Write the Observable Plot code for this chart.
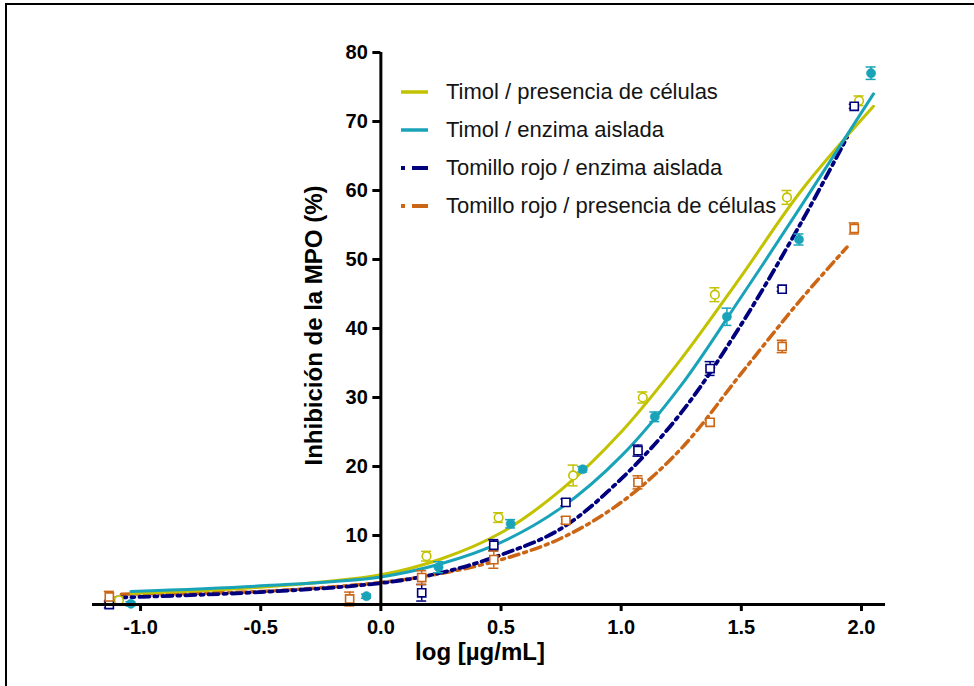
<!DOCTYPE html>
<html><head><meta charset="utf-8">
<script src="https://cdn.jsdelivr.net/npm/d3@7"></script>
<script src="https://cdn.jsdelivr.net/npm/@observablehq/plot@0.6"></script>
<style>
body{margin:0;background:#fff;font-family:"Liberation Sans",Arial,sans-serif;}
#wrap{position:relative;width:974px;height:686px;overflow:hidden;background:#fff;}
#frame{position:absolute;left:5px;top:3px;width:980px;height:700px;border-top:2px solid #000;border-left:2px solid #000;pointer-events:none;}
#legend{position:absolute;left:400px;top:73px;}
.row{display:flex;align-items:center;height:38px;}
.row svg{margin-right:17px;display:block}
.row span{font-size:22px;color:#141414;white-space:nowrap;}
</style></head>
<body><div id="wrap"><div id="chart"></div><div id="legend"></div><div id="frame"></div></div>
<script>
// ---- series ----
const seriesNames = ["Timol / presencia de células", "Timol / enzima aislada", "Tomillo rojo / enzima aislada", "Tomillo rojo / presencia de células"];
const seriesColors = ["#c2c200", "#19a3b8", "#00007f", "#cc6614"];

// observed means (x = log µg/mL, y = % inhibition) and error (±)
const timolCelX = [-1.09, 0.19, 0.49, 0.80, 1.09, 1.39, 1.69, 1.99];
const timolCelY = [0.6, 7.0, 12.6, 18.7, 30.0, 44.9, 59.0, 73.0];
const timolCelErr = [0.5, 0.7, 0.7, 1.5, 0.8, 1.0, 1.0, 0.7];

const timolEnzX = [-1.04, -0.06, 0.24, 0.54, 0.84, 1.14, 1.44, 1.74, 2.04];
const timolEnzY = [0.1, 1.2, 5.4, 11.7, 19.6, 27.2, 41.7, 52.9, 77.0];
const timolEnzErr = [0.3, 0.3, 0.8, 0.6, 0.4, 0.7, 1.25, 0.8, 0.9];

const tomilloEnzX = [-1.13, 0.17, 0.47, 0.77, 1.07, 1.37, 1.67, 1.97];
const tomilloEnzY = [0.0, 1.7, 8.6, 14.8, 22.3, 34.2, 45.7, 72.2];
const tomilloEnzErr = [0.5, 1.2, 0.8, 0.5, 0.8, 1.0, 0.3, 0.3];

const tomilloCelX = [-1.13, -0.13, 0.17, 0.47, 0.77, 1.07, 1.37, 1.67, 1.97];
const tomilloCelY = [1.1, 0.8, 3.9, 6.5, 12.2, 17.7, 26.4, 37.4, 54.5];
const tomilloCelErr = [0.8, 1.0, 1.0, 1.25, 0.5, 0.95, 0.3, 0.9, 0.8];

// fitted curves
const fitTimolCelX = [-1.04, -0.5, 0, 0.25, 0.5, 0.75, 1.0, 1.25, 1.5, 1.75, 2.05];
const fitTimolCelY = [1.6, 2.5, 4.3, 6.6, 10.4, 16.6, 25.0, 35.6, 47.6, 60.0, 72.2];

const fitTimolEnzX = [-1.04, -0.5, 0, 0.25, 0.5, 0.75, 1.0, 1.25, 1.5, 1.75, 2.05];
const fitTimolEnzY = [1.9, 2.7, 4.0, 5.9, 9.0, 14.0, 21.5, 31.8, 44.6, 57.8, 74.0];

const fitTomilloEnzX = [-1.1, -0.5, 0, 0.25, 0.5, 0.75, 1.0, 1.25, 1.5, 1.75, 1.94];
const fitTomilloEnzY = [1.0, 1.8, 3.1, 4.6, 7.2, 11.0, 18.2, 27.8, 40.6, 55.4, 67.7];

const fitTomilloCelX = [-1.08, -0.5, 0, 0.25, 0.5, 0.75, 1.0, 1.25, 1.5, 1.75, 1.94];
const fitTomilloCelY = [1.5, 1.9, 3.2, 4.5, 6.5, 9.6, 14.8, 22.6, 33.5, 44.3, 51.8];

// axes
const xTicks = [-1.0, -0.5, 0.0, 0.5, 1.0, 1.5, 2.0];
const xTickLabels = ["-1.0", "-0.5", "0.0", "0.5", "1.0", "1.5", "2.0"];
const yTicks = [10, 20, 30, 40, 50, 60, 70, 80];
const yTickLabels = ["10", "20", "30", "40", "50", "60", "70", "80"];
const xTitle = "log [µg/mL]";
const yTitle = "Inhibición de la MPO (%)";

// ---- build tables ----
const rows = (X, Y, E) => X.map((x, i) => ({x, y: Y[i], e: E ? E[i] : 0}));
const pts = [
  rows(timolCelX, timolCelY, timolCelErr),
  rows(timolEnzX, timolEnzY, timolEnzErr),
  rows(tomilloEnzX, tomilloEnzY, tomilloEnzErr),
  rows(tomilloCelX, tomilloCelY, tomilloCelErr)
];
const fits = [
  rows(fitTimolCelX, fitTimolCelY),
  rows(fitTimolEnzX, fitTimolEnzY),
  rows(fitTomilloEnzX, fitTomilloEnzY),
  rows(fitTomilloCelX, fitTomilloCelY)
];
const dashes = [null, null, "10,5,3,5", "10,5,3,5"];
const lineW = [3, 3, 3.8, 3.5];

const errMarks = pts.flatMap((p, k) => [
  Plot.ruleX(p, {x: "x", y1: d => d.y - d.e, y2: d => d.y + d.e, stroke: seriesColors[k], strokeWidth: 1.5}),
  Plot.ruleY(p, {y: d => d.y + d.e, x1: "x", x2: "x", insetLeft: -5, insetRight: -5, stroke: seriesColors[k], strokeWidth: 1.5}),
  Plot.ruleY(p, {y: d => d.y - d.e, x1: "x", x2: "x", insetLeft: -5, insetRight: -5, stroke: seriesColors[k], strokeWidth: 1.5})
]);

const chart = Plot.plot({
  width: 974, height: 686,
  marginLeft: 92, marginRight: 89, marginTop: 52, marginBottom: 82,
  x: {domain: [-1.2, 2.1], axis: null},
  y: {domain: [0, 80], axis: null},
  style: {fontFamily: "'Liberation Sans', Arial, sans-serif", background: "transparent", overflow: "visible", color: "#000"},
  marks: [
    ...[3, 2, 0, 1].map(k => Plot.line(fits[k], {x: "x", y: "y", stroke: seriesColors[k], strokeWidth: lineW[k], strokeDasharray: dashes[k], curve: "catmull-rom"})),
    ...errMarks,
    Plot.dot(pts[0], {x: "x", y: "y", r: 4.3, stroke: seriesColors[0], strokeWidth: 1.6, fill: "white"}),
    Plot.dot(pts[1], {x: "x", y: "y", r: 4.6, fill: seriesColors[1], stroke: seriesColors[1], strokeWidth: 0.5}),
    Plot.dot(pts[2], {x: "x", y: "y", r: 4.6, symbol: "square", stroke: seriesColors[2], strokeWidth: 1.6, fill: "white"}),
    Plot.dot(pts[3], {x: "x", y: "y", r: 4.6, symbol: "square", stroke: seriesColors[3], strokeWidth: 1.6, fill: "white"}),
    // axes
    Plot.ruleY([0], {stroke: "black", strokeWidth: 3}),
    Plot.ruleX([0], {stroke: "black", strokeWidth: 3}),
    Plot.ruleY(yTicks, {y: d => d, x1: 0, x2: 0, insetLeft: -8, stroke: "black", strokeWidth: 3}),
    Plot.text(yTicks, {x: 0, y: d => d, text: (d, i) => yTickLabels[i], textAnchor: "end", dx: -13, fontSize: 20, fontWeight: "bold", fill: "black"}),
    Plot.ruleX(xTicks, {x: d => d, y1: 0, y2: 0, insetBottom: -7, stroke: "black", strokeWidth: 3}),
    Plot.text(xTicks, {x: d => d, y: 0, text: (d, i) => xTickLabels[i], dy: 23, fontSize: 20, fontWeight: "bold", fill: "black"}),
    Plot.text([xTitle], {frameAnchor: "bottom", text: d => d, textAnchor: "middle", lineAnchor: "middle", dx: -9, dy: 48, fontSize: 24, fontWeight: "bold", fill: "black"}),
    Plot.text([yTitle], {frameAnchor: "left", text: d => d, textAnchor: "middle", lineAnchor: "middle", rotate: -90, dx: 222, dy: -3, fontSize: 24, fontWeight: "bold", fill: "black"})
  ]
});
document.getElementById("chart").appendChild(chart);

// ---- legend ----
const legend = d3.select("#legend");
seriesNames.forEach((name, k) => {
  const row = legend.append("div").attr("class", "row");
  const svg = row.append("svg").attr("width", 29).attr("height", 10);
  if (dashes[k]) {
    svg.append("line").attr("x1", 1).attr("x2", 5).attr("y1", 5).attr("y2", 5).attr("stroke", seriesColors[k]).attr("stroke-width", 4);
    svg.append("line").attr("x1", 12).attr("x2", 28).attr("y1", 5).attr("y2", 5).attr("stroke", seriesColors[k]).attr("stroke-width", 4);
  } else {
    svg.append("line").attr("x1", 1).attr("x2", 28).attr("y1", 5).attr("y2", 5).attr("stroke", seriesColors[k]).attr("stroke-width", 3.5);
  }
  row.append("span").text(name);
});
</script>
</body></html>
